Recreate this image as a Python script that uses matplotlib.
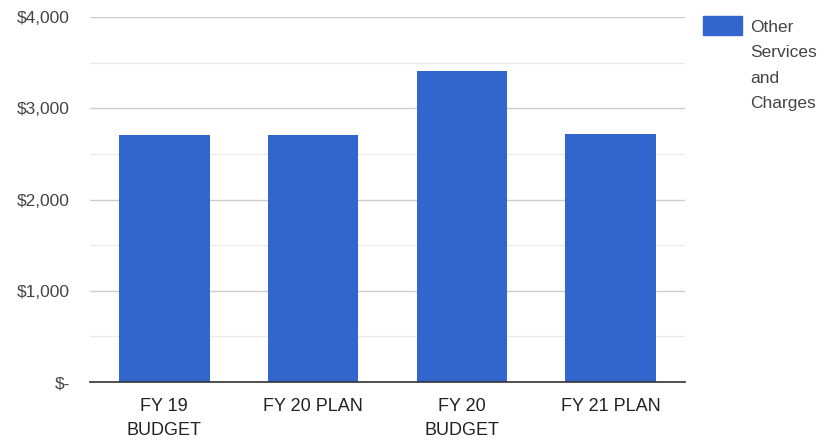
import matplotlib.pyplot as plt
from matplotlib.patches import Rectangle
from matplotlib.ticker import MultipleLocator, FuncFormatter

plt.rcParams['font.family'] = ['Liberation Sans', 'DejaVu Sans']

categories = ["FY 19\nBUDGET", "FY 20 PLAN", "FY 20\nBUDGET", "FY 21 PLAN"]
values = [2705, 2705, 3406, 2723]
series_name = "Other\nServices\nand\nCharges"

bar_color = "#3366cc"

fig = plt.figure(figsize=(8.24, 4.42), dpi=100)
ax = fig.add_axes([90 / 824, 1 - 382 / 442, 595 / 824, 365 / 442])

x = range(len(categories))
ax.bar(x, values, width=0.61, color=bar_color, zorder=3)

ax.set_xlim(-0.5, len(categories) - 0.5)
ax.set_ylim(0, 4000)
ax.yaxis.set_major_locator(MultipleLocator(1000))
ax.yaxis.set_minor_locator(MultipleLocator(500))


def money(v, pos):
    if v == 0:
        return "$-"
    return "${:,.0f}".format(v)


ax.yaxis.set_major_formatter(FuncFormatter(money))
ax.grid(axis='y', which='major', color="#cccccc", linewidth=1, zorder=0)
ax.grid(axis='y', which='minor', color="#ebebeb", linewidth=1, zorder=0)

for s in ["top", "right", "left"]:
    ax.spines[s].set_visible(False)
ax.spines["bottom"].set_color("#333333")
ax.spines["bottom"].set_linewidth(1.2)
ax.spines["bottom"].set_zorder(4)

ax.set_xticks(list(x))
ax.set_xticklabels(categories, fontsize=13, color="#222222", linespacing=1.55)
ax.tick_params(axis='x', length=0, pad=11.5)
ax.tick_params(axis='y', which='both', length=0, pad=14.5, labelsize=12.5, labelcolor="#444444")

# legend drawn by hand so the swatch lines up with the first text line
fig.patches.append(Rectangle((703 / 824, 1 - 35 / 442), 39 / 824, 19 / 442,
                             transform=fig.transFigure, color=bar_color))
fig.text(750 / 824, 1 - 20 / 442, series_name, fontsize=12.5, color="#444444",
         va="top", ha="left", linespacing=1.87)

fig.savefig("out.png", dpi=100)
